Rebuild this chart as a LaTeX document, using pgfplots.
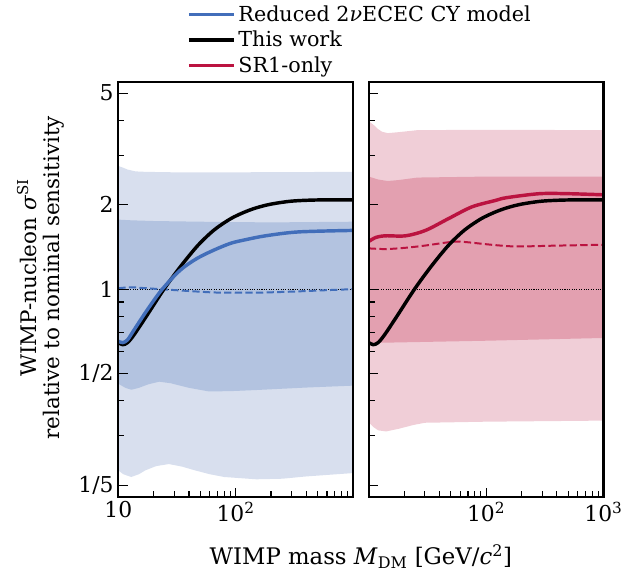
\documentclass[border=0pt]{standalone}
\usepackage{fontspec}
\setmainfont{DejaVu Serif}
\usepackage{pgfplots}
\pgfplotsset{compat=1.18}

\definecolor{bl}{RGB}{66,110,186}
\definecolor{blA}{RGB}{216,223,238}
\definecolor{blB}{RGB}{179,195,224}
\definecolor{cr}{RGB}{187,19,64}
\definecolor{crA}{RGB}{240,206,215}
\definecolor{crB}{RGB}{227,160,176}

\begin{document}
\begin{tikzpicture}
\begin{axis}[at={(0pt,0pt)},
  scale only axis, width=177pt, height=313pt,
  xmode=log, ymode=log, xmin=10, xmax=1000, ymin=0.1815, ymax=5.47,
  axis line style={line width=1.7pt},
  tick style={black, line width=0.9pt},
  major tick length=7pt, minor tick length=4.5pt,
  tick align=inside, xtick pos=left, ytick pos=left,
  xtick={10,100,1000},
  minor xtick={20,30,40,50,60,70,80,90,200,300,400,500,600,700,800,900},
  ytick={0.2,0.5,1,2,5}, minor ytick={0.3,0.4,0.6,0.7,0.8,0.9,3,4},
  tick label style={font=\fontsize{16.5}{19}\selectfont},
  axis on top,
  xticklabels={10,10\textsuperscript{2},},
  yticklabels={1/5,1/2,1,2,5},
  legend style={at={(0.292,1.192)}, anchor=north west, draw=none, fill=none,
    inner sep=0pt, font=\fontsize{15.6}{18.5}\selectfont, row sep=2pt},
  legend cell align=left,
  legend image post style={xscale=2},
]
\addlegendimage{bl, line width=2.6pt}\addlegendentry{Reduced 2\textit{ν}ECEC CY model}
\addlegendimage{black, line width=2.6pt}\addlegendentry{This work}
\addlegendimage{cr, line width=2.6pt}\addlegendentry{SR1-only}

\addplot[fill=blA, draw=none, forget plot] coordinates {
 (10,2.75)(11,2.71)(12,2.67)(14,2.63)(17,2.62)(30,2.61)(100,2.61)(1000,2.62)
 (1000,0.221)(400,0.215)(250,0.211)(150,0.210)(80,0.214)(60,0.219)(45,0.226)(35,0.233)(27,0.238)(21,0.234)(17,0.226)(15,0.219)(12.9,0.214)(11,0.219)(10,0.226)} -- cycle;
\addplot[fill=blB, draw=none, forget plot] coordinates {
 (10,1.77)(13,1.76)(20,1.75)(50,1.74)(200,1.73)(1000,1.74)
 (1000,0.453)(400,0.446)(150,0.437)(90,0.433)(59,0.432)(40,0.445)(28,0.462)(22.3,0.468)(18,0.458)(15,0.445)(12.9,0.438)(11.5,0.445)(10,0.46)} -- cycle;

\addplot[black, densely dotted, line width=0.8pt, forget plot] coordinates {(10,1) (1000,1)};
\addplot[bl, dash pattern=on 5.5pt off 2.5pt, line width=1.5pt, smooth, forget plot] coordinates {(10,1.008) (12.8,1.016) (16,1.01) (23,1.0) (40,0.985) (60,0.975) (80,0.972) (150,0.972) (300,0.98) (600,0.992) (1000,1.0)};
\addplot[black, line width=2.6pt, smooth, forget plot] coordinates {(10,0.645) (10.9,0.634) (12,0.645) (13.66,0.689) (17.7,0.811) (24.5,1.0) (33.9,1.204) (47.5,1.43) (65.2,1.623) (90,1.78) (118,1.88) (150,1.95) (200,2.01) (300,2.06) (500,2.08) (1000,2.08)};
\addplot[bl, line width=2.6pt, smooth, forget plot] coordinates {(10,0.652) (10.9,0.645) (12,0.66) (13.66,0.717) (17.7,0.845) (23.7,1.0) (33.9,1.171) (47,1.288) (65.2,1.378) (90,1.456) (117,1.496) (180,1.55) (342,1.60) (1000,1.62)};
\end{axis}

\begin{axis}[at={(189pt,0pt)},
  scale only axis, width=177pt, height=313pt,
  xmode=log, ymode=log, xmin=10, xmax=1000, ymin=0.1815, ymax=5.47,
  axis line style={line width=1.7pt},
  tick style={black, line width=0.9pt},
  major tick length=7pt, minor tick length=4.5pt,
  tick align=inside, xtick pos=left, ytick pos=left,
  xtick={10,100,1000},
  minor xtick={20,30,40,50,60,70,80,90,200,300,400,500,600,700,800,900},
  ytick={0.2,0.5,1,2,5}, minor ytick={0.3,0.4,0.6,0.7,0.8,0.9,3,4},
  tick label style={font=\fontsize{16.5}{19}\selectfont},
  axis on top,
  xticklabels={,10\textsuperscript{2},10\textsuperscript{3}},
  yticklabels={,,,,},
]
\addplot[fill=crA, draw=none] coordinates {
 (10,3.97)(11,3.85)(12,3.72)(13,3.64)(14.5,3.6)(18,3.63)(26,3.69)(100,3.70)(1000,3.69)
 (1000,0.34)(100,0.337)(30,0.334)(24,0.328)(18,0.318)(14,0.311)(12,0.314)(11,0.322)(10,0.335)} -- cycle;
\addplot[fill=crB, draw=none] coordinates {
 (10,2.52)(12,2.46)(14.5,2.43)(18,2.45)(26,2.50)(100,2.52)(1000,2.52)
 (1000,0.67)(100,0.655)(10,0.643)} -- cycle;

\addplot[black, densely dotted, line width=0.8pt] coordinates {(10,1) (1000,1)};
\addplot[cr, dash pattern=on 5.5pt off 2.5pt, line width=1.5pt, smooth] coordinates {(10,1.398) (14,1.39) (20.6,1.405) (30,1.43) (47.9,1.47) (62,1.476) (119,1.436) (183,1.42) (400,1.43) (1000,1.44)};
\addplot[cr, line width=2.6pt, smooth] coordinates {(10,1.48) (11.5,1.53) (13.9,1.55) (20.6,1.55) (30.4,1.62) (47.9,1.786) (75.5,1.965) (119,2.07) (150,2.12) (285,2.19) (500,2.19) (1000,2.17)};
\addplot[black, line width=2.6pt, smooth] coordinates {(10,0.645) (10.9,0.634) (12,0.645) (13.66,0.689) (17.7,0.811) (24.5,1.0) (33.9,1.204) (47.5,1.43) (65.2,1.623) (90,1.78) (118,1.88) (150,1.95) (200,2.01) (300,2.06) (500,2.08) (1000,2.08)};
\end{axis}

\node[anchor=base, font=\fontsize{17.2}{20}\selectfont] at (183pt,-51pt) {WIMP mass \textit{M}\textsubscript{DM} [GeV/\textit{c}\textsuperscript{2}]};
\node[anchor=base, rotate=90, font=\fontsize{16.2}{19}\selectfont] at (-61.7pt,165.5pt) {WIMP-nucleon \textit{σ}\textsuperscript{SI}};
\node[anchor=base, rotate=90, font=\fontsize{16.2}{19}\selectfont] at (-44.25pt,165.5pt) {relative to nominal sensitivity};
\path (-89.25pt,-60pt) rectangle (381pt,375pt);
\end{tikzpicture}
\end{document}
